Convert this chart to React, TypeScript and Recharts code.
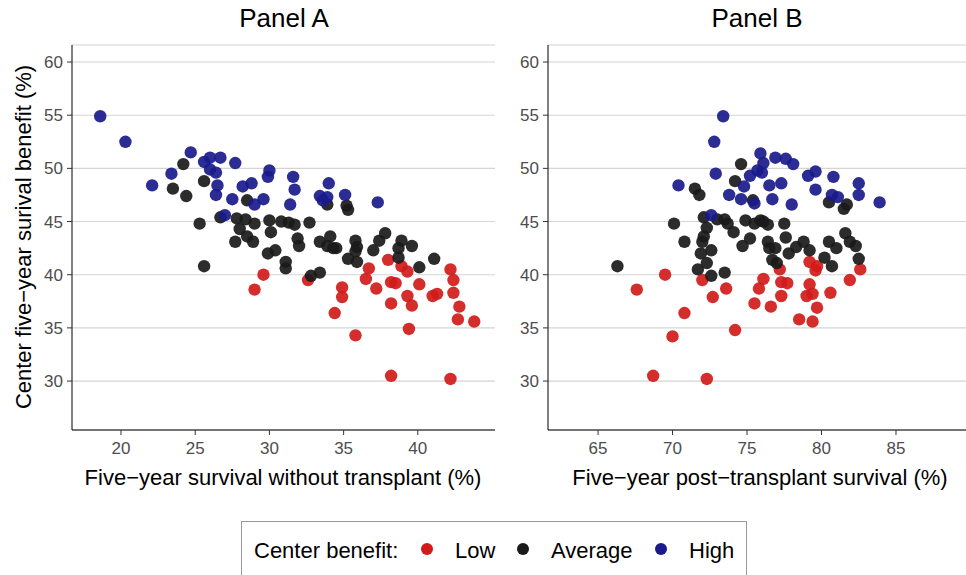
import React from 'react';
import { ScatterChart, Scatter, XAxis, YAxis, CartesianGrid } from 'recharts';

// [x, y] per transplant center, grouped by center benefit
const panelALow: [number, number][] = [
  [29.6, 40.0], [29.0, 38.6], [32.6, 39.5], [34.9, 38.8], [34.9, 37.9], [34.4, 36.4],
  [35.8, 34.3], [36.7, 40.6], [36.5, 39.6], [37.2, 38.7], [38.0, 41.4], [38.2, 39.3],
  [38.5, 39.2], [38.2, 37.3], [38.9, 40.8], [39.3, 40.3], [40.1, 39.1], [39.3, 38.0],
  [39.6, 37.1], [39.4, 34.9], [38.2, 30.5], [42.2, 40.5], [42.4, 39.5], [42.4, 38.3],
  [41.0, 38.0], [41.3, 38.2], [42.8, 37.0], [42.7, 35.8], [43.8, 35.6], [42.2, 30.2],
];

const panelAAverage: [number, number][] = [
  [24.2, 50.4], [25.6, 48.8], [23.5, 48.1], [24.4, 47.4], [28.5, 47.0], [26.7, 45.4],
  [27.8, 45.3], [28.4, 45.2], [29.0, 44.8], [30.0, 45.1], [30.8, 45.0], [25.3, 44.8],
  [28.0, 44.3], [28.5, 43.6], [30.1, 44.0], [27.7, 43.1], [28.9, 43.1], [30.4, 42.3],
  [29.9, 42.0], [25.6, 40.8], [31.1, 41.2], [31.1, 40.6], [33.9, 46.6], [35.2, 46.5],
  [35.3, 46.1], [31.3, 44.9], [31.7, 44.7], [32.7, 44.9], [31.9, 43.4], [32.0, 42.7],
  [33.4, 43.1], [34.1, 43.6], [33.9, 42.7], [34.3, 42.5], [34.5, 42.5], [35.8, 43.2],
  [35.9, 42.6], [35.8, 42.2], [35.3, 41.5], [35.9, 41.2], [37.0, 42.3], [37.4, 43.2],
  [37.8, 43.9], [38.9, 43.2], [38.7, 42.5], [39.6, 42.7], [38.7, 41.6], [40.1, 40.7],
  [41.1, 41.5], [32.8, 39.9], [33.4, 40.2],
];

const panelAHigh: [number, number][] = [
  [18.6, 54.9], [20.3, 52.5], [24.7, 51.5], [26.0, 51.0], [25.6, 50.6], [26.7, 51.0],
  [27.7, 50.5], [30.0, 49.8], [29.9, 49.2], [23.4, 49.5], [26.0, 49.9], [26.4, 49.6],
  [22.1, 48.4], [26.5, 48.4], [26.4, 47.5], [28.2, 48.3], [28.8, 48.6], [27.5, 47.1],
  [29.6, 47.1], [29.0, 46.6], [27.0, 45.6], [31.6, 49.2], [31.7, 48.0], [31.4, 46.6],
  [34.0, 48.6], [33.4, 47.4], [33.9, 47.3], [33.6, 47.0], [35.1, 47.5], [37.3, 46.8],
];

const panelBLow: [number, number][] = [
  [69.5, 40.0], [67.6, 38.6], [72.0, 39.5], [72.7, 37.9], [73.6, 38.7], [70.8, 36.4],
  [70.0, 34.2], [74.2, 34.8], [68.7, 30.5], [72.3, 30.2], [76.1, 39.6], [75.8, 38.7],
  [75.5, 37.3], [76.6, 37.0], [77.3, 38.0], [77.2, 40.5], [77.3, 39.3], [77.7, 39.2],
  [79.2, 41.2], [79.7, 40.8], [79.6, 40.4], [79.2, 39.1], [79.0, 38.0], [79.4, 38.2],
  [79.7, 36.9], [78.5, 35.8], [79.4, 35.6], [80.6, 38.3], [81.9, 39.5], [82.6, 40.5],
];

const panelBAverage: [number, number][] = [
  [74.6, 50.4], [74.2, 48.8], [71.5, 48.1], [71.8, 47.5], [75.4, 47.0], [70.1, 44.8],
  [72.1, 45.4], [73.0, 45.2], [73.5, 45.2], [73.7, 44.8], [72.3, 44.4], [72.1, 43.6],
  [70.8, 43.1], [72.0, 43.1], [72.6, 42.3], [71.9, 42.0], [72.3, 41.1], [71.7, 40.5],
  [72.6, 39.9], [73.5, 40.2], [66.3, 40.8], [74.1, 44.0], [74.9, 45.1], [75.2, 43.4],
  [74.7, 42.7], [75.5, 44.8], [76.7, 41.4], [77.0, 41.1], [80.5, 46.8], [81.5, 46.2],
  [81.7, 46.6], [75.9, 45.1], [76.1, 45.0], [76.4, 44.7], [77.5, 44.8], [76.4, 43.1],
  [76.5, 42.5], [76.9, 42.5], [77.6, 43.5], [77.8, 42.0], [78.3, 42.6], [78.8, 43.1],
  [79.2, 42.3], [80.5, 43.1], [81.0, 42.5], [80.2, 41.6], [80.7, 40.8], [81.6, 43.9],
  [81.9, 43.1], [82.3, 42.7], [82.5, 41.5],
];

const panelBHigh: [number, number][] = [
  [73.4, 54.9], [72.8, 52.5], [72.9, 49.5], [70.4, 48.4], [73.8, 47.5], [74.6, 47.1],
  [74.8, 48.3], [75.2, 49.3], [75.7, 49.8], [75.9, 51.4], [75.5, 46.7], [72.6, 45.6],
  [76.1, 50.5], [76.9, 51.0], [77.6, 50.9], [78.1, 50.4], [76.0, 49.6], [76.5, 48.4],
  [77.3, 48.6], [76.7, 47.1], [78.0, 46.6], [79.1, 49.3], [79.6, 49.7], [80.8, 49.2],
  [79.6, 48.0], [80.7, 47.5], [81.1, 47.3], [82.5, 48.6], [82.5, 47.5], [83.9, 46.8],
];

const yTicks = [30, 35, 40, 45, 50, 55, 60];
const panelATicks = [20, 25, 30, 35, 40];
const panelBTicks = [65, 70, 75, 80, 85];

const COLORS = { low: '#d11a1a', average: '#1a1a1a', high: '#1a1a8c' };
const FONT = '"Liberation Sans", Arial, Helvetica, sans-serif';

const toPoints = (rows: [number, number][]) => rows.map(([x, y]) => ({ x, y }));

const dot = (fill: string) => (props: any) => (
  <circle cx={props.cx} cy={props.cy} r={6.2} fill={fill} fillOpacity={0.92} />
);

interface PanelProps {
  left: number;
  width: number;
  domain: [number, number];
  ticks: number[];
  low: [number, number][];
  average: [number, number][];
  high: [number, number][];
}

const tickStyle = { fill: '#4d4d4d', fontSize: 17, fontFamily: FONT };

const Panel: React.FC<PanelProps> = ({ left, width, domain, ticks, low, average, high }) => (
  <div style={{ position: 'absolute', left, top: 0 }}>
    <ScatterChart width={width} height={575} margin={{ top: 45, right: 0, bottom: 115, left: 0 }}>
      <CartesianGrid vertical={false} stroke="#d4d4d4" strokeWidth={1.1} />
      <XAxis
        type="number"
        dataKey="x"
        domain={domain}
        ticks={ticks}
        allowDataOverflow
        height={30}
        axisLine={{ stroke: '#000' }}
        tickLine={{ stroke: '#333' }}
        tickSize={5}
        tickMargin={7}
        tick={tickStyle}
      />
      <YAxis
        type="number"
        dataKey="y"
        domain={[25.4, 61.6]}
        ticks={yTicks}
        allowDataOverflow
        width={40}
        axisLine={{ stroke: '#000' }}
        tickLine={{ stroke: '#333' }}
        tickSize={5}
        tickMargin={4}
        tick={tickStyle}
      />
      <Scatter data={toPoints(low)} shape={dot(COLORS.low)} isAnimationActive={false} />
      <Scatter data={toPoints(average)} shape={dot(COLORS.average)} isAnimationActive={false} />
      <Scatter data={toPoints(high)} shape={dot(COLORS.high)} isAnimationActive={false} />
    </ScatterChart>
  </div>
);

const text = (style: React.CSSProperties): React.CSSProperties => ({
  position: 'absolute',
  fontFamily: FONT,
  color: '#000',
  whiteSpace: 'nowrap',
  lineHeight: 1,
  ...style,
});

const legendDot = (left: number, color: string) => (
  <div
    style={{
      position: 'absolute',
      left: left - 6,
      top: 543,
      width: 12,
      height: 12,
      borderRadius: 6,
      background: color,
    }}
  />
);

export default function App() {
  return (
    <div style={{ position: 'fixed', left: 0, top: 0, width: 966, height: 575, background: '#fff', overflow: 'hidden' }}>
      <Panel left={32} width={463} domain={[16.7, 45.2]} ticks={panelATicks} low={panelALow} average={panelAAverage} high={panelAHigh} />
      <Panel left={508} width={458} domain={[61.64, 89.7]} ticks={panelBTicks} low={panelBLow} average={panelBAverage} high={panelBHigh} />

      <div style={text({ left: 184, width: 200, top: 5, fontSize: 26, textAlign: 'center' })}>Panel A</div>
      <div style={text({ left: 657, width: 200, top: 5, fontSize: 26, textAlign: 'center' })}>Panel B</div>

      <div style={text({ left: 83, width: 400, top: 467, fontSize: 22, textAlign: 'center' })}>
        Five−year survival without transplant (%)
      </div>
      <div style={text({ left: 560, width: 400, top: 467, fontSize: 22, textAlign: 'center' })}>
        Five−year post−transplant survival (%)
      </div>
      <div
        style={text({
          left: 24 - 250,
          width: 500,
          top: 226,
          fontSize: 22,
          textAlign: 'center',
          transform: 'rotate(-90deg)',
        })}
      >
        Center five−year surival benefit (%)
      </div>

      <div style={{ position: 'absolute', left: 241, top: 521, width: 504, height: 80, border: '1px solid #9a9a9a' }} />
      <div style={text({ left: 254, top: 540, fontSize: 22 })}>Center benefit:</div>
      {legendDot(427, COLORS.low)}
      <div style={text({ left: 455, top: 540, fontSize: 22 })}>Low</div>
      {legendDot(523, COLORS.average)}
      <div style={text({ left: 551, top: 540, fontSize: 22 })}>Average</div>
      {legendDot(661, COLORS.high)}
      <div style={text({ left: 689, top: 540, fontSize: 22 })}>High</div>
    </div>
  );
}
